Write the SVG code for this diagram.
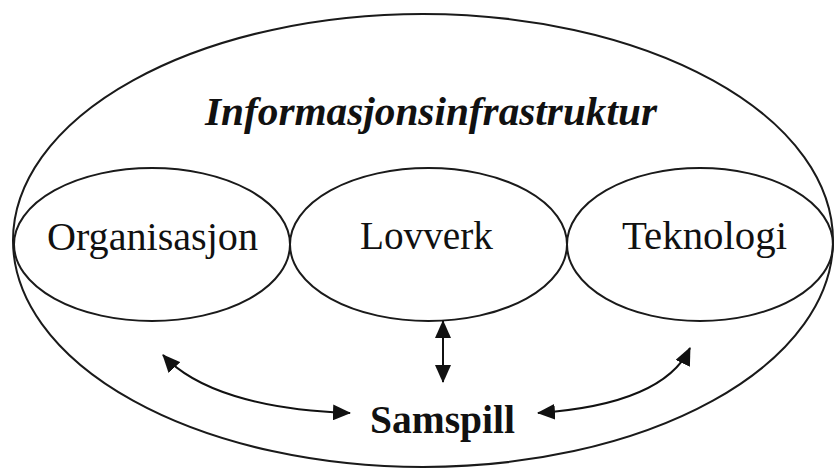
<svg xmlns="http://www.w3.org/2000/svg" width="835" height="472" viewBox="0 0 835 472">
  <style>
    .shape { fill: none; stroke: #1a1a1a; stroke-width: 2; }
    .lbl { font-family: "Liberation Serif", "Times New Roman", serif; font-size: 40px; fill: #111; text-anchor: middle; }
    .title { font-weight: bold; font-style: italic; }
    .bold { font-weight: bold; }
    .conn { fill: none; stroke: #111; stroke-width: 2; marker-start: url(#ah); marker-end: url(#ah); }
  </style>
  <defs>
    <marker id="ah" markerUnits="userSpaceOnUse" markerWidth="18" markerHeight="16" refX="17" refY="8" orient="auto-start-reverse" viewBox="0 0 18 16">
      <path d="M0,0 L18,8 L0,16 z" fill="#111"/>
    </marker>
  </defs>
  <rect width="835" height="472" fill="#fff"/>
  <g id="informasjonsinfrastruktur">
    <ellipse class="shape" cx="423" cy="240.5" rx="410" ry="226.5"/>
    <text class="lbl title" x="431" y="125" textLength="452" lengthAdjust="spacingAndGlyphs">Informasjonsinfrastruktur</text>
  </g>
  <g id="organisasjon">
    <ellipse class="shape" cx="152" cy="244.5" rx="138" ry="76.5"/>
    <text class="lbl" x="152.5" y="250" textLength="211" lengthAdjust="spacingAndGlyphs">Organisasjon</text>
  </g>
  <g id="lovverk">
    <ellipse class="shape" cx="428.5" cy="244.5" rx="138.5" ry="76.5"/>
    <text class="lbl" x="426.5" y="249" textLength="133" lengthAdjust="spacingAndGlyphs">Lovverk</text>
  </g>
  <g id="teknologi">
    <ellipse class="shape" cx="700" cy="244.5" rx="133" ry="76.5"/>
    <text class="lbl" x="704.5" y="249" textLength="165" lengthAdjust="spacingAndGlyphs">Teknologi</text>
  </g>
  <g id="samspill">
    <text class="lbl bold" x="442.5" y="433" textLength="145" lengthAdjust="spacingAndGlyphs">Samspill</text>
  </g>
  <g id="connectors">
    <path class="conn" d="M163,355 C195,390 260,410 350,413"/>
    <path class="conn" d="M443,321 L443,382"/>
    <path class="conn" d="M538,413 C610,408 670,390 690,348"/>
  </g>
</svg>
